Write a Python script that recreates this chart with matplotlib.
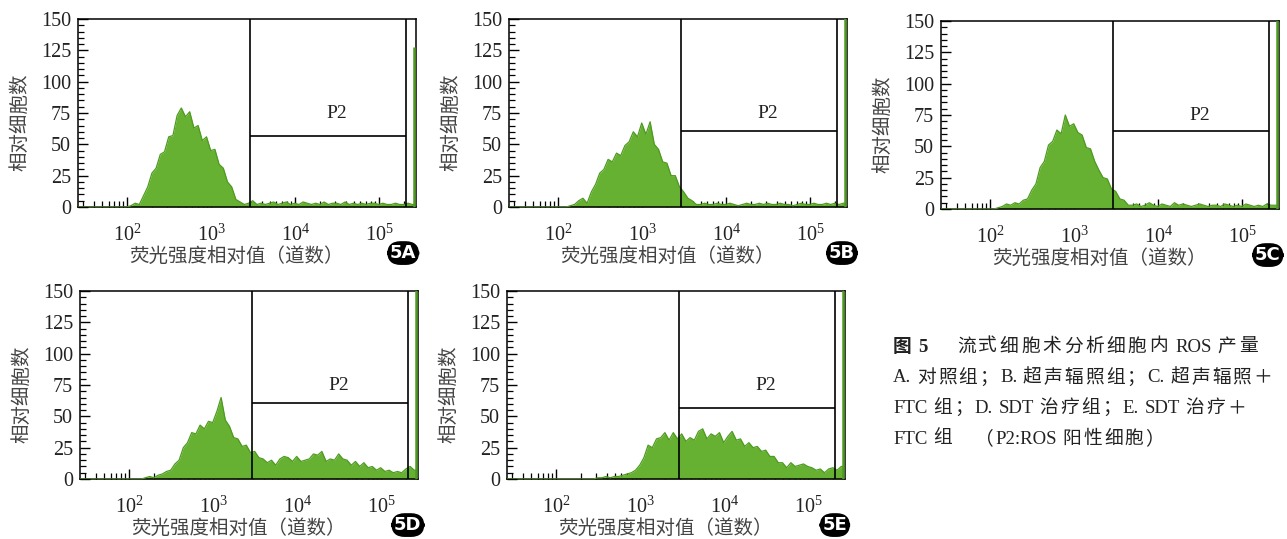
import re
import numpy as np
import matplotlib
matplotlib.use('Agg')
import matplotlib.pyplot as plt
from matplotlib.ticker import FixedLocator, MultipleLocator, LogLocator, NullFormatter

plt.rcParams['mathtext.fontset'] = 'custom'
plt.rcParams['mathtext.rm'] = 'Liberation Serif'
plt.rcParams['mathtext.it'] = 'Liberation Serif:italic'

W, H = 1287, 539

# ---------------- data ----------------
# histogram bins: 80 equal bins in log10 space from 10^1.42 to 10^5.42
bin_exp_lo, bin_exp_hi, n_bins = 1.42, 5.42, 80

counts_A = [0] * 12 + [1, 3, 2, 9, 16, 27, 31, 42, 44, 56, 57, 73, 79, 72, 76, 63, 65, 53, 56, 45,
                       46, 34, 31, 20, 16, 6, 4, 2, 3] + \
           [5, 2, 3, 2, 3, 4, 2, 3, 4, 2, 3, 2, 4, 3, 2, 3, 2, 4, 2, 3, 3, 2, 4, 2, 3, 2, 3, 2, 3, 3,
            2, 3, 2, 2, 3, 2, 2, 3, 2]
counts_B = [0] * 14 + [1, 2, 5, 7, 3, 12, 18, 27, 30, 38, 36, 43, 41, 49, 52, 60, 56, 67, 58, 68,
                       50, 46, 36, 35, 25, 25, 16, 12, 7, 5, 2] + \
           [2, 3, 2, 2, 3, 2, 2, 3, 2, 1, 2, 3, 2, 2, 3, 2, 3, 2, 2, 3, 2, 2, 1, 2, 3, 2, 2, 3, 2, 2,
            3, 2, 3, 2, 3]
counts_C = [0] * 13 + [1, 2, 4, 3, 5, 4, 7, 8, 15, 20, 33, 38, 51, 54, 63, 60, 75, 66, 68, 61,
                       59, 49, 48, 38, 31, 25, 24, 16, 14, 8, 7, 3] + \
           [3, 4, 2, 3, 5, 3, 2, 4, 3, 2, 5, 3, 4, 3, 2, 3, 4, 3, 2, 3, 3, 2, 4, 3, 2, 3, 2, 4, 3, 2,
            3, 2, 4, 3, 3]
counts_D = [0] * 15 + [1, 2, 1, 3, 4, 6, 7, 12, 15, 25, 29, 37, 36, 43, 40, 46, 45, 54, 65, 47,
                       42, 33, 32, 26, 27, 21, 22, 17, 16, 13, 15, 11, 16, 18, 17, 14, 18, 14, 15, 16,
                       20, 19, 22, 14, 16, 15, 20, 16, 15, 11, 14, 10, 13, 9, 10, 7, 9, 6, 7, 5,
                       6, 5, 8, 10, 7]
counts_E = [0] * 21 + [1, 1, 2, 1, 2, 2, 3, 4, 5, 7, 11, 17, 27, 25, 32, 33, 37, 31, 37, 32,
                       36, 30, 33, 31, 38, 40, 32, 36, 34, 37, 29, 34, 38, 31, 32, 26, 29, 25, 26, 22,
                       23, 18, 18, 13, 13, 9, 13, 10, 11, 12, 10, 9, 7, 8, 5, 8, 9, 7, 10]

overflow_counts = [128, 155, 155, 155, 155]      # off-scale pile-up in the last channel
gate_low, gate_high = 2900, 2.1e5                 # P2 gate limits (channel value)
gate_heights = [57, 61, 62, 61, 57]               # height of the P2 gate bar
p2_x, p2_y = 3.1e4, 75
panel_labels = ['5A', '5B', '5C', '5D', '5E']
label_xfrac = [0.962, 0.985, 0.967, 0.97, 0.97]

y_ticks = [0, 25, 50, 75, 100, 125, 150]
x_ticks = [1e2, 1e3, 1e4, 1e5]
x_tick_labels = [r'$\mathrm{10^{2}}$', r'$\mathrm{10^{3}}$', r'$\mathrm{10^{4}}$', r'$\mathrm{10^{5}}$']
x_min, x_max = 26, 2.75e5
y_max = 150

y_label = '相对细胞数'
x_label = '荧光强度相对值（道数）'

caption_title_bold = '图 5'
caption_title = '流式细胞术分析细胞内 ROS 产量'
caption_lines = ['A. 对照组；B. 超声辐照组；C. 超声辐照＋',
                 'FTC 组；D. SDT 治疗组；E. SDT 治疗＋',
                 'FTC 组　（P2:ROS 阳性细胞）']

all_counts = [counts_A, counts_B, counts_C, counts_D, counts_E]

# ---------------- layout (pixels) ----------------
axes_px = [(78, 19), (509, 19), (941, 21), (80, 291), (507, 291)]  # left, top
ax_w, ax_h = 338, 188

fill_col = '#66b132'
edge_col = '#4e9a20'
txt_col = '#222222'

serif_cjk = ['Liberation Serif', 'Noto Sans CJK SC']

fig = plt.figure(figsize=(W / 100, H / 100), dpi=100)
fig.patch.set_facecolor('white')

edges = np.logspace(bin_exp_lo, bin_exp_hi, n_bins + 1)
centers = np.sqrt(edges[:-1] * edges[1:])

for i, (counts, (lx, ty)) in enumerate(zip(all_counts, axes_px)):
    ax = fig.add_axes([lx / W, 1 - (ty + ax_h) / H, ax_w / W, ax_h / H])
    ax.set_xscale('log')
    ax.set_xlim(x_min, x_max)
    ax.set_ylim(0, y_max)

    xs = np.concatenate([[edges[0]], centers, [edges[-1]]])
    ys = np.concatenate([[counts[0]], counts, [counts[-1]]])
    ax.fill_between(xs, 0, ys, color=fill_col, lw=0, zorder=2)
    ax.plot(xs, ys, color=edge_col, lw=0.9, zorder=3)
    ax.vlines(edges[-1], 0, overflow_counts[i], color=edge_col, lw=1.8, zorder=3, clip_on=True)

    # gate
    ax.vlines([gate_low, gate_high], 0, y_max, color='black', lw=1.2, zorder=4)
    ax.hlines(gate_heights[i], gate_low, gate_high, color='black', lw=1.2, zorder=4)
    ax.text(p2_x, p2_y, 'P2', fontsize=14, family='Liberation Serif', color=txt_col,
            ha='center', va='center', zorder=5)

    for sp in ax.spines.values():
        sp.set_linewidth(1.1)
        sp.set_color('black')

    ax.yaxis.set_major_locator(FixedLocator(y_ticks))
    ax.yaxis.set_minor_locator(MultipleLocator(5))
    ax.xaxis.set_major_locator(FixedLocator(x_ticks))
    ax.xaxis.set_minor_locator(LogLocator(base=10, subs=np.arange(2, 10)))
    ax.xaxis.set_minor_formatter(NullFormatter())
    ax.set_xticklabels(x_tick_labels)
    ax.tick_params(axis='both', which='major', direction='in', length=7, width=1.0,
                   labelsize=14.5, colors='black', labelcolor=txt_col)
    ax.tick_params(axis='both', which='minor', direction='in', length=4, width=0.9)
    ax.tick_params(axis='x', which='major', pad=12)
    ax.tick_params(axis='y', which='major', pad=5)
    ax.tick_params(top=False, right=False, which='both')
    for lab in ax.get_yticklabels():
        lab.set_family('Liberation Serif')

    ax.text(-0.172, 0.45, y_label, rotation=90, transform=ax.transAxes, ha='center', va='center',
            fontsize=14, family=['Noto Sans CJK SC'], color='#444444')
    ax.text(0.47, -0.265, x_label, transform=ax.transAxes, ha='center', va='center',
            fontsize=14, family=['Noto Sans CJK SC'], color='#444444')
    ax.text(label_xfrac[i], -0.245, panel_labels[i], transform=ax.transAxes, ha='center', va='center',
            fontsize=13, family='DejaVu Sans', weight='bold', color='white',
            bbox=dict(boxstyle='round,pad=0.12,rounding_size=0.7', fc='black', ec='black'))

# caption with letter spacing (tracking) for CJK characters, like the justified print
renderer = fig.canvas.get_renderer()


def tracked_text(x_px, y_px, s, size, tracking, weight='normal'):
    tokens = re.findall(r'[A-Za-z0-9.:]+| |.', s)
    x = x_px
    for tok in tokens:
        if tok == ' ':
            x += size * 0.35
            continue
        t = fig.text(x / W, 1 - y_px / H, tok, fontsize=size, family=serif_cjk, weight=weight,
                     ha='left', va='center', color=txt_col)
        bb = t.get_window_extent(renderer)
        adv = bb.width
        if tok == '　':
            adv = size * 1.389
        x += adv + (tracking if not re.match(r'[A-Za-z0-9.:]', tok) else 1.0)
    return x


cap_size = 13.5
tracked_text(893, 347, caption_title_bold, cap_size, 2.0, weight='bold')
tracked_text(957, 347, caption_title, cap_size, 2.6)
for j, line in enumerate(caption_lines):
    tracked_text(893, 378 + 30.5 * j, line, cap_size, 2.0)

fig.savefig('out.png', dpi=100, facecolor='white')
